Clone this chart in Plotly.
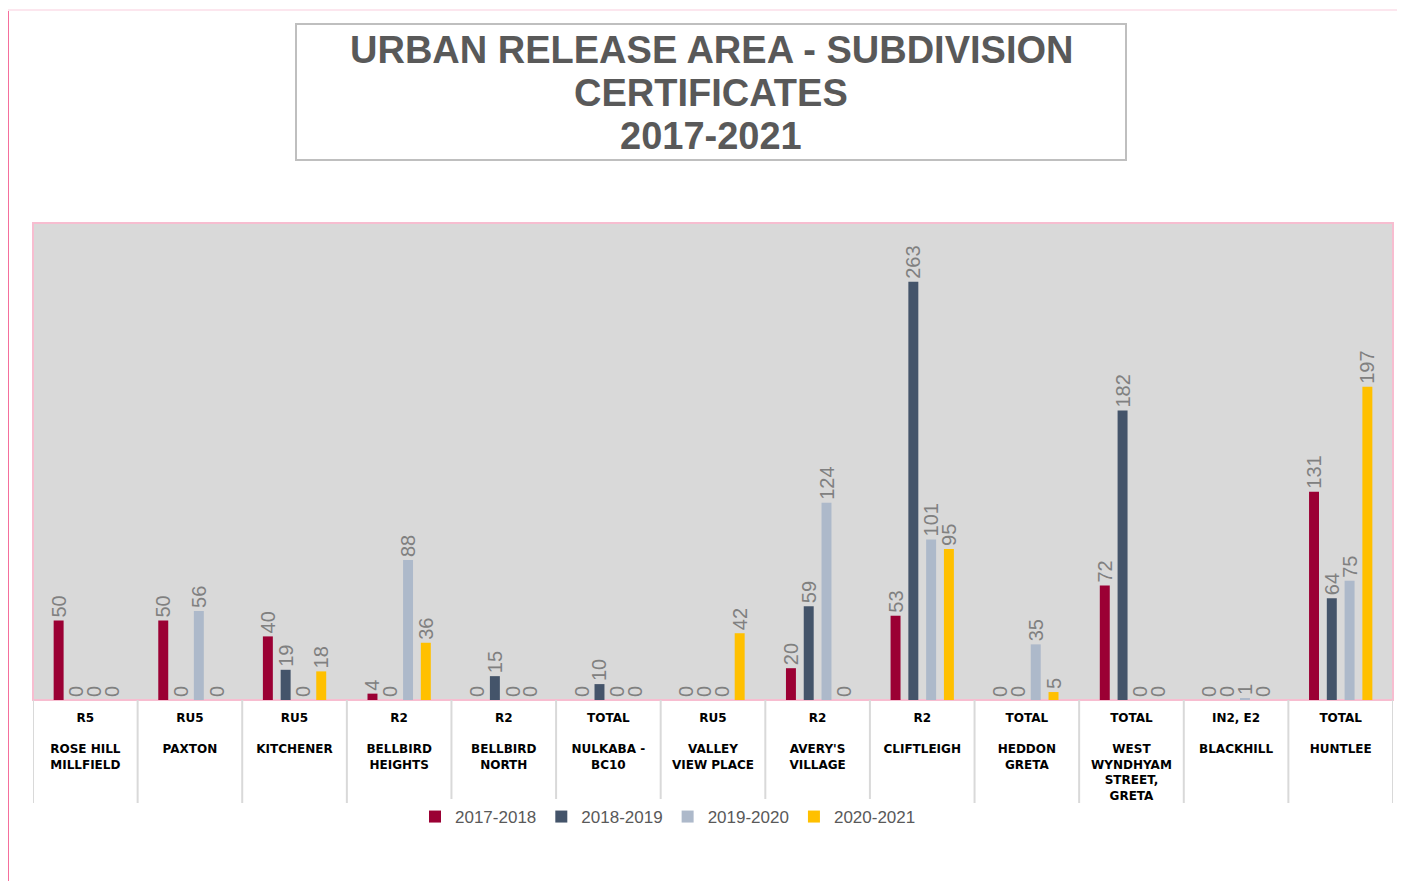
import plotly.graph_objects as go

zones = ["R5", "RU5", "RU5", "R2", "R2", "TOTAL", "RU5", "R2", "R2", "TOTAL", "TOTAL", "IN2, E2", "TOTAL"]
areas = ["ROSE HILL<br>MILLFIELD", "PAXTON", "KITCHENER", "BELLBIRD<br>HEIGHTS", "BELLBIRD<br>NORTH",
         "NULKABA -<br>BC10", "VALLEY<br>VIEW PLACE", "AVERY'S<br>VILLAGE", "CLIFTLEIGH",
         "HEDDON<br>GRETA", "WEST<br>WYNDHYAM<br>STREET,<br>GRETA", "BLACKHILL", "HUNTLEE"]

series_names = ["2017-2018", "2018-2019", "2019-2020", "2020-2021"]
v2017 = [50, 50, 40, 4, 0, 0, 0, 20, 53, 0, 72, 0, 131]
v2018 = [0, 0, 19, 0, 15, 10, 0, 59, 263, 0, 182, 0, 64]
v2019 = [0, 56, 0, 88, 0, 0, 0, 124, 101, 35, 0, 1, 75]
v2020 = [0, 0, 18, 36, 0, 0, 42, 0, 95, 5, 0, 0, 197]
colors = ["#9B0034", "#44546A", "#ADB9CA", "#FFC000"]

title_lines = ["URBAN RELEASE AREA - SUBDIVISION", "CERTIFICATES", "2017-2021"]

x = list(range(len(zones)))
ticktext = [f"{z}<br><br>{a}" for z, a in zip(zones, areas)]

OFF = 8  # page body margin
W, H = 1397, 873
L, R, T, B = 33 - OFF, 12, 223 - OFF, 181
pw, ph = W - L - R, H - T - B

def px_x(p):  # page pixel -> paper x
    return (p - OFF - L) / pw

def px_y(p):  # page pixel -> paper y
    return (H - B - (p - OFF)) / ph

fig = go.Figure()
for name, vals, col in zip(series_names, [v2017, v2018, v2019, v2020], colors):
    fig.add_trace(go.Bar(
        x=x, y=vals, name=name, marker=dict(color=col, line=dict(width=0)),
        text=[str(v) for v in vals], textposition="outside", textangle=-90,
        constraintext="none", cliponaxis=False,
        textfont=dict(family="Liberation Sans, Arial", size=20, color="#808080"),
    ))

shapes = []
for i in range(len(zones) + 1):
    shapes.append(dict(type="line", xref="x", yref="paper", x0=i - 0.5, x1=i - 0.5,
                       y0=0, y1=px_y(803), line=dict(color="#D9D9D9", width=2)))
shapes.append(dict(type="rect", xref="paper", yref="paper", x0=0, x1=1, y0=0, y1=1,
                   line=dict(color="#F7BDD0", width=2), layer="below"))
shapes.append(dict(type="rect", xref="paper", yref="paper",
                   x0=px_x(296), x1=px_x(1126), y0=px_y(160), y1=px_y(24),
                   line=dict(color="#BFBFBF", width=2)))
shapes.append(dict(type="line", xref="paper", yref="paper", x0=px_x(8), x1=px_x(8),
                   y0=px_y(881), y1=px_y(10), line=dict(color="#F56F9C", width=2)))
shapes.append(dict(type="line", xref="paper", yref="paper", x0=px_x(8), x1=px_x(1405),
                   y0=px_y(10), y1=px_y(10), line=dict(color="#FCE6EE", width=2)))

annotations = []
for line, yc in zip(title_lines, [50, 93, 136]):
    annotations.append(dict(text=f"<b>{line}</b>", xref="paper", yref="paper",
                            x=px_x(711), y=px_y(yc), xanchor="center", yanchor="middle",
                            showarrow=False,
                            font=dict(family="Liberation Sans, Arial", size=38, color="#595959")))

fig.update_layout(
    width=W, height=H,
    margin=dict(l=L, r=R, t=T, b=B),
    paper_bgcolor="white", plot_bgcolor="#D9D9D9",
    barmode="group", bargap=0.32, bargroupgap=0.44,
    xaxis=dict(tickmode="array", tickvals=x, ticktext=ticktext, showgrid=False, zeroline=False,
               showline=False, ticks="", range=[-0.5, len(zones) - 0.5], ticklabelstandoff=9,
               tickfont=dict(family="DejaVu Sans", size=12, color="#000000", weight="bold")),
    yaxis=dict(range=[0, 300], visible=False, showgrid=False),
    legend=dict(orientation="h", x=px_x(668), xanchor="center", y=px_y(817), yanchor="middle",
                font=dict(family="Liberation Sans, Arial", size=17, color="#595959"),
                traceorder="normal", itemwidth=30),
    shapes=shapes,
    annotations=annotations,
    showlegend=True,
)

fig.write_html("out.html")
